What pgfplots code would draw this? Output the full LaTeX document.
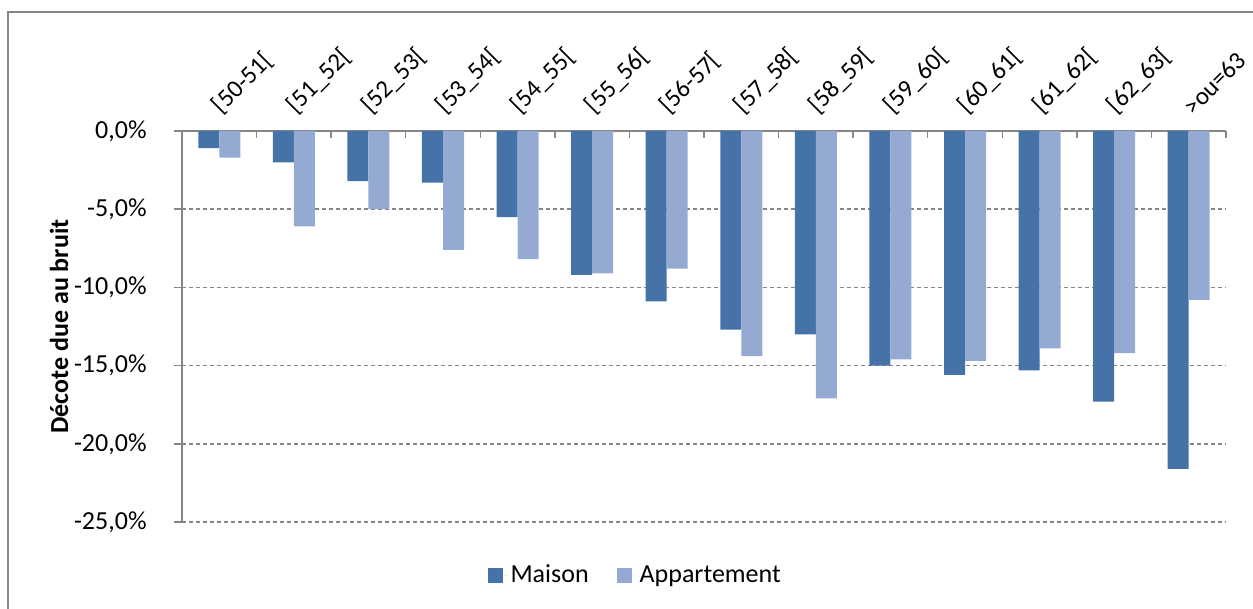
\documentclass[border=0pt]{standalone}
\usepackage{pgfplots}
\pgfplotsset{compat=1.18}
\usepackage{fontspec}
\setmainfont{Carlito}
\definecolor{maison}{RGB}{69,114,167}
\definecolor{appart}{RGB}{149,170,210}
\definecolor{gridgray}{RGB}{134,134,134}
\begin{document}
\fontsize{13}{15.6}\selectfont
\begin{tikzpicture}
\begin{axis}[
  name=ax,
  scale only axis,
  width=522pt, height=195.5pt,
  xmin=-0.5, xmax=13.5,
  ymin=-25, ymax=0,
  axis x line*=top,
  axis y line*=left,
  axis line style={gridgray, line width=0.75pt},
  ybar=0pt,
  bar width=10.5pt,
  xtick={0,...,13},
  xticklabels={{[50-51[},{[51\_52[},{[52\_53[},{[53\_54[},{[54\_55[},{[55\_56[},{[56-57[},{[57\_58[},{[58\_59[},{[59\_60[},{[60\_61[},{[61\_62[},{[62\_63[},{>ou=63}},
  xticklabel pos=upper,
  xticklabel style={xshift=2.5pt, yshift=7pt, rotate=45, anchor=south west, inner sep=0pt, font=\fontsize{12.5}{15}\selectfont},
  minor xtick={-0.5,0.5,...,13.5},
  xtick align=inside,
  major x tick style={draw=none},
  minor x tick style={gridgray, line width=0.75pt},
  minor tick length=3.5pt,
  ytick={-25,-20,-15,-10,-5,0},
  yticklabels={{-25,0\%},{-20,0\%},{-15,0\%},{-10,0\%},{-5,0\%},{0,0\%}},
  ytick align=outside,
  major y tick style={gridgray, line width=0.75pt},
  major tick length=4pt,
  yticklabel style={font=\fontsize{13}{15.6}\selectfont, anchor=east, inner sep=0pt, xshift=-13.5pt},
  ymajorgrids,
  y grid style={gridgray, line width=0.75pt, dash pattern=on 2pt off 1.5pt},
  ylabel={\bfseries Décote due au bruit},
  every axis y label/.style={at={(axis description cs:-0.1178,0.5)}, rotate=90, anchor=center, font=\fontsize{13}{15.6}\selectfont},
  legend columns=2,
  legend style={at={(axis description cs:0.435,-0.138)}, anchor=center, draw=none, fill=none, font=\fontsize{13}{15.6}\selectfont,
    /tikz/every even column/.append style={column sep=12pt}},
  legend image code/.code={\fill[#1] (0pt,-3.75pt) rectangle (7.5pt,3.75pt); \path (7.5pt,0pt) -- (9.5pt,0pt);},
]
\addplot[fill=maison, draw=none] coordinates {
(0,-1.1) (1,-2.0) (2,-3.2) (3,-3.3) (4,-5.5) (5,-9.2) (6,-10.9) (7,-12.7) (8,-13.0) (9,-15.0) (10,-15.6) (11,-15.3) (12,-17.3) (13,-21.6)};
\addplot[fill=appart, draw=none] coordinates {
(0,-1.7) (1,-6.1) (2,-5.0) (3,-7.6) (4,-8.2) (5,-9.1) (6,-8.8) (7,-14.4) (8,-17.1) (9,-14.6) (10,-14.7) (11,-13.9) (12,-14.2) (13,-10.8)};
\legend{Maison, Appartement}
\end{axis}
\draw[gridgray, line width=0.75pt] ([shift={(-87pt,-60pt)}]ax.south west) rectangle ([shift={(560pt,255pt)}]ax.south west);
\pgfresetboundingbox
\path[use as bounding box] ([shift={(-91pt,-43.5pt)}]ax.south west) rectangle ([shift={(535.5pt,261pt)}]ax.south west);
\end{tikzpicture}
\end{document}
